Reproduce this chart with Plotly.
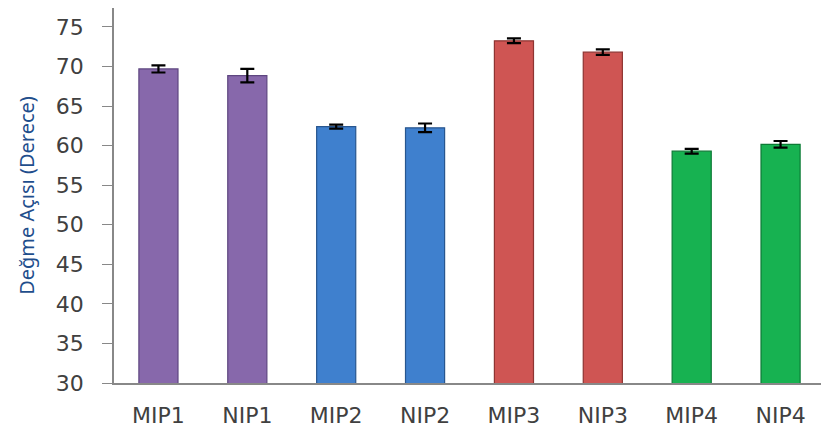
import plotly.graph_objects as go

categories = ["MIP1", "NIP1", "MIP2", "NIP2", "MIP3", "NIP3", "MIP4", "NIP4"]
values = [69.7, 68.85, 62.4, 62.25, 73.25, 71.82, 59.3, 60.17]
errors = [0.45, 0.85, 0.25, 0.55, 0.3, 0.35, 0.3, 0.42]
colors = ["#8768AB", "#8768AB", "#3F80CE", "#3F80CE", "#CF5553", "#CF5553", "#17B251", "#17B251"]
line_colors = ["#5E4680", "#5E4680", "#28568F", "#28568F", "#8E3432", "#8E3432", "#0C7A35", "#0C7A35"]
y_ticks = [30, 35, 40, 45, 50, 55, 60, 65, 70, 75]

fig = go.Figure(go.Bar(
    x=categories, y=values,
    width=0.44,
    marker=dict(color=colors, line=dict(color=line_colors, width=1.2)),
    error_y=dict(type="data", array=errors, visible=True, color="#000000", thickness=2.2, width=7),
))

fig.update_layout(
    width=821, height=424,
    margin=dict(l=106, r=4, t=0, b=49),
    paper_bgcolor="white", plot_bgcolor="white",
    showlegend=False,
    font=dict(family="DejaVu Sans", color="#404040", size=22),
    xaxis=dict(showline=True, linecolor="#888888", linewidth=1.5, ticks="", showgrid=False,
               tickfont=dict(size=22, color="#404040"), ticklabelstandoff=12, automargin=False),
    yaxis=dict(range=[30, 77.4], tickvals=y_ticks, showline=True, linecolor="#888888", linewidth=1.5,
               ticks="outside", ticklen=10, tickcolor="#888888", showgrid=False, zeroline=False,
               tickfont=dict(size=22, color="#404040"), ticklabelstandoff=14, automargin=False,
               title=dict(text="Değme Açısı (Derece)",
                          font=dict(family="Noto Sans", size=20, color="#1F4E8C"), standoff=16)),
)

fig.write_html("out.html")
